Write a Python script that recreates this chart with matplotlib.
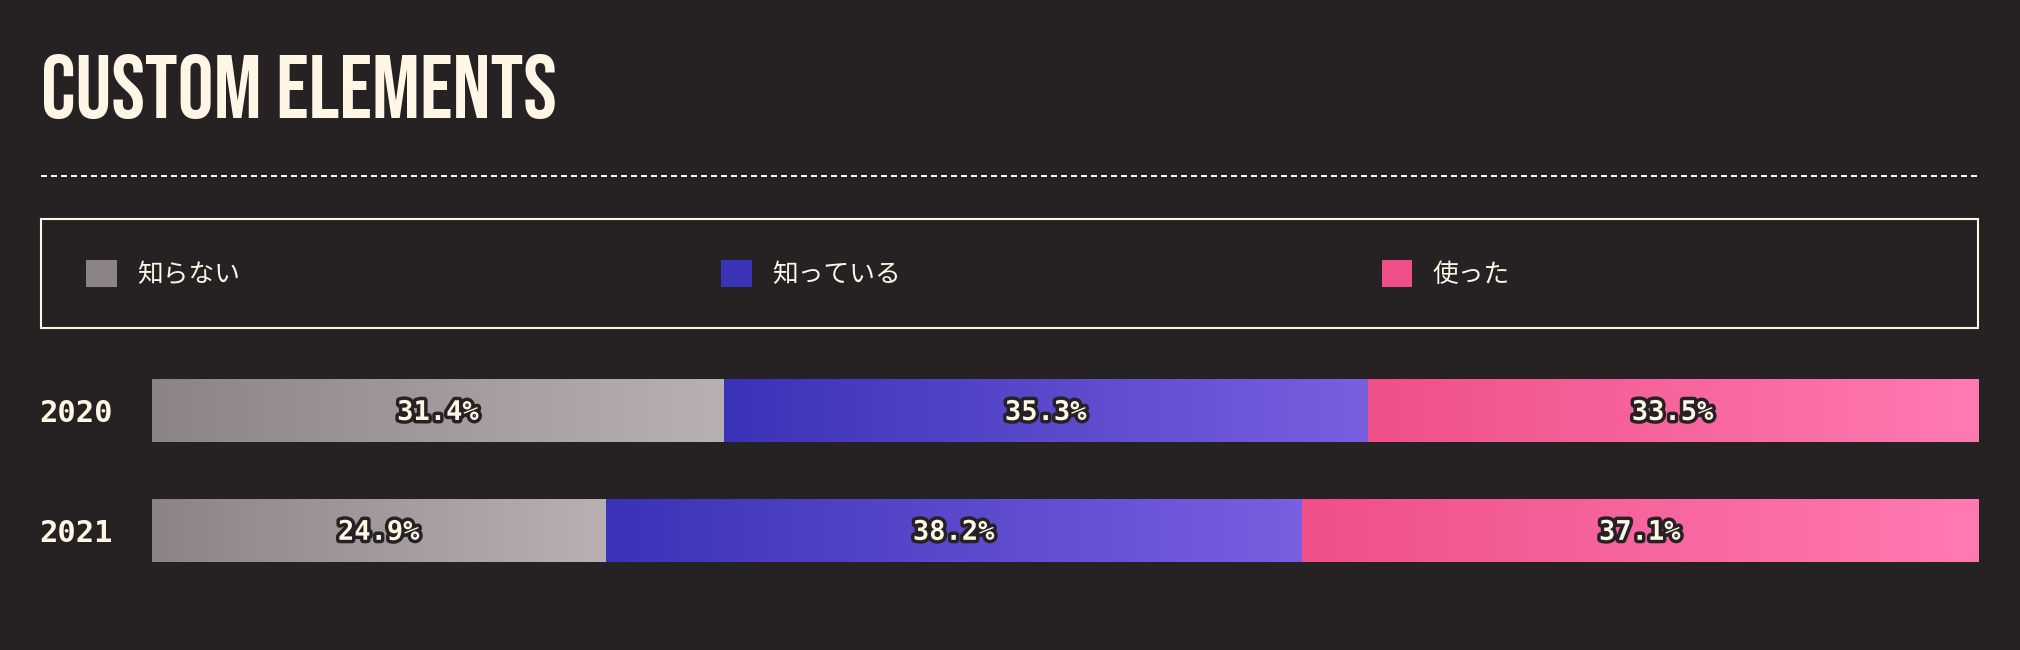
import numpy as np
import matplotlib
matplotlib.use("Agg")
import matplotlib.pyplot as plt
from matplotlib import font_manager as fm
from matplotlib.colors import LinearSegmentedColormap
from matplotlib.patches import Rectangle
from matplotlib.lines import Line2D
import matplotlib.patheffects as pe

# data
years = ["2020", "2021"]
categories = ["知らない", "知っている", "使った"]
unaware = [31.4, 24.9]
aware = [35.3, 38.2]
used = [33.5, 37.1]

BG = "#262223"
CREAM = "#fff6e5"
# (start, end) of the horizontal gradient inside each segment
GRADS = [("#8c8387", "#b9b0b3"), ("#3a33b7", "#7a5fe0"), ("#ef4f89", "#ff7ab3")]

W, H = 2020, 650
fig = plt.figure(figsize=(W / 100, H / 100), dpi=100, facecolor=BG)

# condensed face for the title if one is around
names = {f.name for f in fm.fontManager.ttflist}
title_font = "DejaVu Sans"
for cand in ["Bebas Neue", "Oswald", "Roboto Condensed", "Liberation Sans Narrow",
             "Open Sans Condensed", "DejaVu Sans"]:
    if cand in names:
        title_font = cand
        break
fig.text(41 / W, 1 - 118 / H, "CUSTOM ELEMENTS", color=CREAM, fontsize=64.5,
         fontweight="bold", family=title_font, fontstretch="condensed", va="baseline")

fig.add_artist(Line2D([41 / W, 1978 / W], [1 - 176 / H] * 2, color=CREAM, lw=1.44,
                      ls=(0, (3, 2)), transform=fig.transFigure))
fig.add_artist(Rectangle((41 / W, 1 - 328 / H), (1978 - 41) / W, (328 - 219) / H,
                         transform=fig.transFigure, fill=False, ec=CREAM, lw=1.5))

ax = fig.add_axes([152 / W, 1 - 562 / H, (1978 - 152) / W, (562 - 379) / H])
ax.set_facecolor(BG)
h = 0.527
y = np.arange(len(years))
left = np.zeros(len(years))
conts = []
for vals, lab, (c0, c1) in zip([unaware, aware, used], categories, GRADS):
    bars = ax.barh(y, vals, left=left, height=h, color=c0, label=lab, lw=0)
    cmap = LinearSegmentedColormap.from_list(lab, [c0, c1])
    for b, v in zip(bars, vals):
        x0, y0, bw, bh = b.get_x(), b.get_y(), b.get_width(), b.get_height()
        im = ax.imshow(np.linspace(0, 1, 256)[None, :], cmap=cmap, aspect="auto",
                       extent=[x0, x0 + bw, y0, y0 + bh], interpolation="bilinear",
                       zorder=2)
        im.set_clip_path(b)
        ax.text(x0 + bw / 2, y0 + bh / 2 + 0.02, f"{v}%", ha="center", va="center",
                color=CREAM, fontsize=19.5, fontweight="bold", family="DejaVu Sans Mono",
                zorder=3, path_effects=[pe.withStroke(linewidth=5, foreground=BG)])
    conts.append(bars)
    left = left + np.array(vals)

ax.set_xlim(0, left.max())
ax.set_ylim(1 + h / 2, -h / 2)
ax.set_yticks(y, years)
ax.set_xticks([])
ax.tick_params(axis="y", length=0, pad=28, labelcolor=CREAM)
for t in ax.get_yticklabels():
    t.set_fontfamily("DejaVu Sans Mono")
    t.set_fontweight("bold")
    t.set_fontsize(22)
for s in ax.spines.values():
    s.set_visible(False)

leg = fig.legend(handles=conts, labels=categories, loc="center left",
                 bbox_to_anchor=(86 / W, 1 - 274 / H), ncol=3, frameon=False,
                 borderpad=0, borderaxespad=0, handlelength=1.2, handleheight=1.245,
                 handletextpad=0.8, columnspacing=18.7,
                 prop={"family": ["Noto Sans CJK JP", "DejaVu Sans"], "size": 18.5})
for t in leg.get_texts():
    t.set_color(CREAM)

fig.savefig("out.png", dpi=100, facecolor=BG)
